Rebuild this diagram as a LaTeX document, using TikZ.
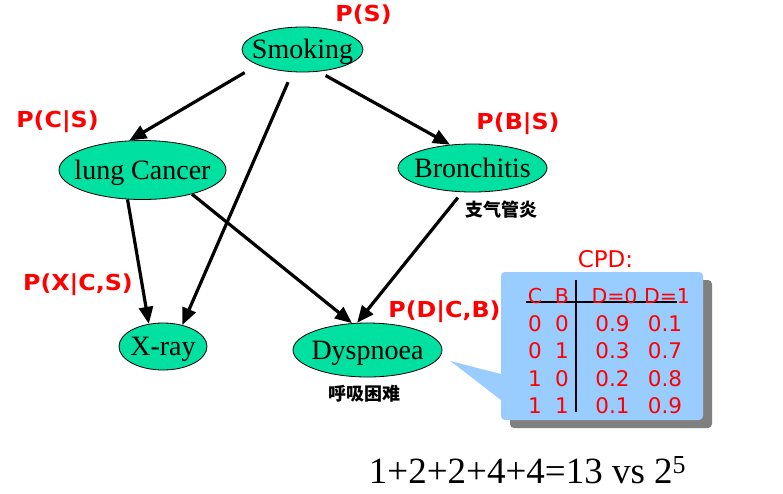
\documentclass[tikz,border=0pt]{standalone}
\usepackage{fontspec}
\setmainfont{Liberation Serif}
\newfontfamily\labfont{DejaVu Sans}
\newfontfamily\problabfont{DejaVu Sans}[FakeStretch=1.08]
\newfontfamily\cjkfont{Noto Sans CJK SC}
\usetikzlibrary{shapes.geometric,arrows.meta,shadows}
\definecolor{nodegreen}{RGB}{0,224,160}
\definecolor{boxblue}{RGB}{153,204,255}
\definecolor{shadowgray}{RGB}{128,128,128}
\newcommand\ctext[1]{\makebox[0pt]{\raisebox{-.33em}[0pt][0pt]{#1}}}
\begin{document}
\begin{tikzpicture}[x=1pt,y=-1pt,
  var/.style={ellipse,draw=black,line width=0.8pt,fill=nodegreen,inner sep=0pt,
    font=\fontsize{28}{30}\selectfont},
  edge/.style={line width=3.2pt,-{Triangle[length=17pt,width=14pt]}},
  prob/.style={text=red,font=\problabfont\bfseries\fontsize{22}{24}\selectfont,inner sep=0pt},
  cn/.style={font=\cjkfont\bfseries\fontsize{18}{20}\selectfont,inner sep=0pt},
  cell/.style={text=red,font=\labfont\fontsize{21.5}{24}\selectfont,inner sep=0pt,anchor=base},
  headcell/.style={cell,font=\labfont\fontsize{20.5}{24}\selectfont},
  cpdbox/.style={fill=boxblue,rounded corners=4pt,minimum width=202pt,minimum height=148pt,
    inner sep=0pt,drop shadow={shadow xshift=9pt,shadow yshift=-8pt,fill=shadowgray,opacity=1}},
  tabline/.style={line width=1.6pt,black}
]
\useasboundingbox (0,0) rectangle (783,493);
\fill[white] (0,0) rectangle (783,493);

% nodes
\node[var,minimum width=121pt,minimum height=45pt] (sm) at (302.5,49.5) {\ctext{Smoking}};
\node[var,minimum width=167pt,minimum height=59pt] (lc) at (142.5,170) {\ctext{lung Cancer}};
\node[var,minimum width=149pt,minimum height=48pt] (br) at (472.5,168) {\ctext{Bronchitis}};
\node[var,minimum width=88pt,minimum height=47pt] (xr) at (163,346.5) {\ctext{X-ray}};
\node[var,minimum width=149pt,minimum height=54pt] (dy) at (367.5,350) {\ctext{Dyspnoea}};

% edges
\draw[edge,shorten <=15pt] (sm.199) -- (lc.114);
\draw[edge,shorten <=8pt] (sm.306) -- (br.134);
\draw[edge,shorten <=11pt] (sm.246) -- (xr.48);
\draw[edge] (lc.243) -- (xr.122);
\draw[edge] (lc.334) -- (dy.120);
\draw[edge,shorten <=7pt] (br.247) -- (dy.111);

% probability labels
\node[prob] (ps) at (363.5,15) {P(S)};
\node[prob] (pcs) at (57.5,122) {P(C|S)};
\node[prob] (pbs) at (518,124) {P(B|S)};
\node[prob] (pxcs) at (78,285) {P(X|C,S)};
\node[prob] (pdcb) at (444.5,312) {P(D|C,B)};

% chinese labels
\node[cn] (zh1) at (501,210) {支气管炎};
\node[cn] (zh2) at (364,393.5) {呼吸困难};

% CPD callout
\node[text=red,font=\labfont\fontsize{23}{26}\selectfont,inner sep=0pt] (cpdt) at (605.5,259) {CPD:};
\node[cpdbox] (cpd) at (602,346) {};
\fill[boxblue] ([xshift=8pt,yshift=-11pt]dy.east) -- ([xshift=4pt,yshift=-29pt]cpd.west)
  -- ([xshift=4pt,yshift=-57pt]cpd.west) -- cycle;
\draw[tabline] (526,302) -- (677,302);
\draw[tabline] (576,280) -- (576,412);
\node[headcell] (h1) at (535,303) {C};
\node[headcell] (h2) at (562,303) {B};
\node[headcell] (h3) at (614.5,303) {D=0};
\node[headcell] (h4) at (667,303) {D=1};
\foreach \a/\b/\c/\d [count=\i] in {0/0/0.9/0.1,0/1/0.3/0.7,1/0/0.2/0.8,1/1/0.1/0.9}{
  \pgfmathsetmacro\yy{331.5+27.4*(\i-1)}
  \node[cell] (r\i a) at (535,\yy) {\a};
  \node[cell] (r\i b) at (562,\yy) {\b};
  \node[cell] (r\i c) at (612.5,\yy) {\c};
  \node[cell] (r\i d) at (665,\yy) {\d};
}

% bottom formula
\node[font=\fontsize{37}{40}\selectfont,inner sep=0pt,anchor=base] (eq) at (527.5,483)
  {1+2+2+4+4=13 vs 2\textsuperscript{5}};
\end{tikzpicture}
\end{document}
